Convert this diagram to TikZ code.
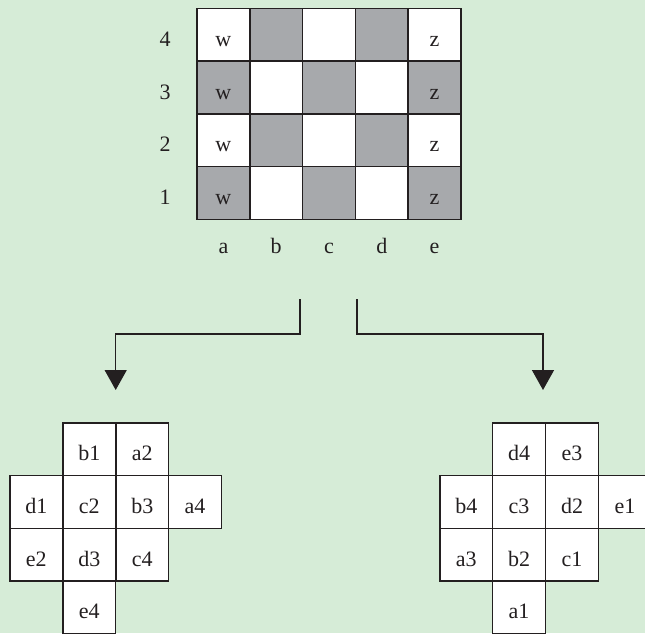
\documentclass[tikz,border=0pt]{standalone}
\usepackage{fontspec}
\setmainfont{Liberation Serif}
\usetikzlibrary{arrows.meta}
\definecolor{bg}{HTML}{D6ECD7}
\definecolor{sq}{HTML}{A7A9AC}
\definecolor{ln}{HTML}{231F20}
\begin{document}
\begin{tikzpicture}[x=1pt,y=-1pt,
  cell/.style={draw=ln, line width=1.4pt, minimum width=52.7pt, minimum height=52.7pt, inner sep=0pt, text=ln, text height=23pt, text depth=0pt, font=\fontsize{22}{24}\selectfont},
  wcell/.style={cell, fill=white},
  lbl/.style={text=ln, inner sep=0pt, anchor=base, font=\fontsize{22}{24}\selectfont},
  conn/.style={draw=ln, line width=1.4pt, -{Triangle[width=22pt,length=20pt]}}]
\clip (0,0) rectangle (645,633);
\fill[bg] (0,0) rectangle (645,633);
% board
\foreach \c [count=\i from 0] in {a,b,c,d,e}{
  \foreach \r in {1,2,3,4}{
    \pgfmathtruncatemacro\s{mod(\i+\r,2)}
    \ifnum\s=1 \def\f{sq}\else\def\f{white}\fi
    \ifnum\i=0 \def\t{w}\else\ifnum\i=4 \def\t{z}\else\def\t{}\fi\fi
    \node[cell, fill=\f] (\c\r) at ({223.4+52.8*\i},{193.1-52.8*(\r-1)}) {\t};
  }
  \node[lbl] (col\c) at ({223.4+52.8*\i},253.5) {\c};
}
\foreach \r in {1,2,3,4}{
  \node[lbl] (row\r) at (165,{193.1+11.6-52.8*(\r-1)}) {\r};
}
% connectors
\coordinate (s1) at (300,299);
\coordinate (k1) at (300,334);
\coordinate (t1) at (115.7,390);
\coordinate (s2) at (357,299);
\coordinate (k2) at (357,334);
\coordinate (t2) at (543,390);
\draw[conn] (s1) -- (k1) -| (t1);
\draw[conn] (s2) -- (k2) -| (t2);
% left cross
\node[wcell] (Lb1) at (89.3,449.2) {b1};
\node[wcell] (La2) at (142.3,449.2) {a2};
\node[wcell] (Ld1) at (36.3,502) {d1};
\node[wcell] (Lc2) at (89.3,502) {c2};
\node[wcell] (Lb3) at (142.3,502) {b3};
\node[wcell] (La4) at (195,502) {a4};
\node[wcell] (Le2) at (36.3,554.7) {e2};
\node[wcell] (Ld3) at (89.3,554.7) {d3};
\node[wcell] (Lc4) at (142.3,554.7) {c4};
\node[wcell] (Le4) at (89.3,607.4) {e4};
% right cross
\node[wcell] (Rd4) at (519,449.2) {d4};
\node[wcell] (Re3) at (572,449.2) {e3};
\node[wcell] (Rb4) at (466.3,502) {b4};
\node[wcell] (Rc3) at (519,502) {c3};
\node[wcell] (Rd2) at (572,502) {d2};
\node[wcell] (Re1) at (625,502) {e1};
\node[wcell] (Ra3) at (466.3,554.7) {a3};
\node[wcell] (Rb2) at (519,554.7) {b2};
\node[wcell] (Rc1) at (572,554.7) {c1};
\node[wcell] (Ra1) at (519,607.4) {a1};
\end{tikzpicture}
\end{document}
